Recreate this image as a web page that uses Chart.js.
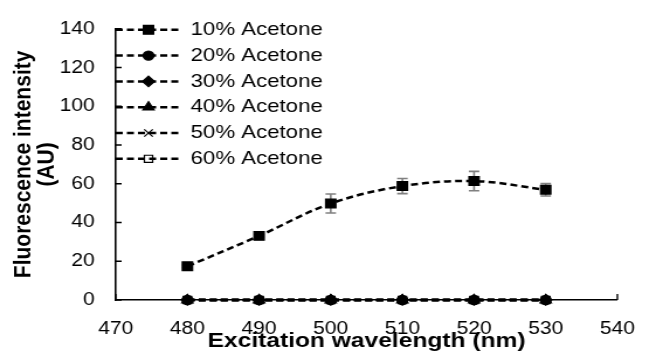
<!DOCTYPE html>
<html>
<head>
<meta charset="utf-8">
<script src="https://cdn.jsdelivr.net/npm/chart.js@4.4.1/dist/chart.umd.min.js"></script>
<style>
  html, body { margin: 0; padding: 0; background: #fff; overflow: hidden; }
  /* the reference is stretched sideways, so the chart is drawn narrow and scaled */
  #wrap { width: 561px; height: 363px; transform: scaleX(1.1693); transform-origin: 0 0; }
</style>
</head>
<body>
<div id="wrap"><canvas id="chart" width="561" height="363"></canvas></div>
<script>
// Data
const wavelengths = [480, 490, 500, 510, 520, 530];
const acetone10 = [17.4, 33.1, 49.8, 58.8, 61.4, 56.9];
const acetone10Err = [0.6, 0.6, 4.9, 3.9, 5.0, 3.2];
const acetone20 = [0, 0, 0, 0, 0, 0];
const acetone30 = [0, 0, 0, 0, 0, 0];
const acetone40 = [0, 0, 0, 0, 0, 0];
const acetone50 = [0, 0, 0, 0, 0, 0];
const acetone60 = [0, 0, 0, 0, 0, 0];
const seriesNames = ["10% Acetone", "20% Acetone", "30% Acetone", "40% Acetone", "50% Acetone", "60% Acetone"];
const xRange = [470, 540], xStep = 10;
const yRange = [0, 140], yStep = 20;

const FONT = "'Liberation Sans', Arial, sans-serif";
const DASH = [6, 3.5];

const pts = vals => vals.map((v, i) => ({ x: wavelengths[i], y: v }));

function makeSet(label, vals, style, radius, fill, errors) {
  return {
    label, data: pts(vals), errors: errors || null,
    borderColor: "#000", borderWidth: 2.5, borderDash: DASH,
    tension: 0.35, clip: false,
    pointStyle: style, pointRadius: radius,
    pointBackgroundColor: fill, pointBorderColor: "#000", pointBorderWidth: 1.2
  };
}

const datasets = [
  makeSet(seriesNames[0], acetone10, "rect", 6.2, "#000", acetone10Err),
  makeSet(seriesNames[1], acetone20, "circle", 4.6, "#000"),
  makeSet(seriesNames[2], acetone30, "rectRot", 5.2, "#000"),
  makeSet(seriesNames[3], acetone40, "triangle", 5.6, "#000"),
  makeSet(seriesNames[4], acetone50, "crossRot", 5.2, "#000"),
  makeSet(seriesNames[5], acetone60, "rect", 5.0, "rgba(255,255,255,0)")
];

// error bars, grey with caps
const errorBars = {
  id: "errorBars",
  beforeDatasetsDraw(chart) {
    const { ctx, scales: { x, y } } = chart;
    ctx.save();
    ctx.strokeStyle = "#808080"; ctx.lineWidth = 1.6;
    chart.data.datasets.forEach(ds => {
      if (!ds.errors) return;
      ds.data.forEach((p, i) => {
        const e = ds.errors[i];
        const px = x.getPixelForValue(p.x);
        const top = y.getPixelForValue(p.y + e), bot = y.getPixelForValue(p.y - e);
        ctx.beginPath();
        ctx.moveTo(px, top); ctx.lineTo(px, bot);
        ctx.moveTo(px - 4.5, top); ctx.lineTo(px + 4.5, top);
        ctx.moveTo(px - 4.5, bot); ctx.lineTo(px + 4.5, bot);
        ctx.stroke();
      });
    });
    ctx.restore();
  }
};

// tick marks pointing into the plot
const innerTicks = {
  id: "innerTicks",
  afterDraw(chart) {
    const { ctx, chartArea: a, scales: { x, y } } = chart;
    ctx.save();
    ctx.strokeStyle = "#000"; ctx.lineWidth = 1.4;
    ctx.beginPath();
    y.ticks.forEach(t => { const py = y.getPixelForValue(t.value); ctx.moveTo(a.left, py); ctx.lineTo(a.left + 5, py); });
    x.ticks.forEach(t => { const px = x.getPixelForValue(t.value); ctx.moveTo(px, a.bottom); ctx.lineTo(px, a.bottom - 6); });
    ctx.stroke();
    ctx.restore();
  }
};

// legend: dashed line with marker, inside the plot at top left
const lineLegend = {
  id: "lineLegend",
  afterDraw(chart) {
    const { ctx, chartArea: a } = chart;
    ctx.save();
    chart.data.datasets.forEach((ds, i) => {
      const yy = a.top + 1 + i * 25.8;
      ctx.strokeStyle = "#000"; ctx.lineWidth = 2.5; ctx.setLineDash(DASH);
      ctx.beginPath(); ctx.moveTo(a.left, yy); ctx.lineTo(a.left + 55, yy); ctx.stroke();
      ctx.setLineDash([]);
      ctx.fillStyle = ds.pointBackgroundColor; ctx.strokeStyle = "#000";
      ctx.lineWidth = ds.pointBorderWidth;
      Chart.helpers.drawPoint(ctx, { pointStyle: ds.pointStyle, radius: ds.pointRadius, rotation: 0, borderWidth: ds.pointBorderWidth }, a.left + 28, yy);
      ctx.fillStyle = "#000"; ctx.font = "19px " + FONT;
      ctx.textAlign = "left"; ctx.textBaseline = "middle";
      ctx.fillText(ds.label, a.left + 64, yy);
    });
    ctx.restore();
  }
};

new Chart(document.getElementById("chart"), {
  type: "line",
  data: { datasets },
  plugins: [errorBars, innerTicks, lineLegend],
  options: {
    responsive: false,
    animation: false,
    devicePixelRatio: 1,
    layout: { padding: { top: 22, right: 17, left: 0, bottom: 0 } },
    plugins: { legend: { display: false }, tooltip: { enabled: false } },
    scales: {
      x: {
        type: "linear", min: xRange[0], max: xRange[1],
        afterFit: s => { s.height = 63; },
        ticks: { stepSize: xStep, padding: 18, color: "#000", font: { family: FONT, size: 18 } },
        grid: { display: false, drawTicks: false },
        border: { display: true, color: "#000", width: 1.6 },
        title: { display: true, text: "Excitation wavelength (nm)", color: "#000",
          font: { family: FONT, size: 21, weight: "bold", lineHeight: 1 }, padding: { top: 0, bottom: 11 } }
      },
      y: {
        min: yRange[0], max: yRange[1],
        afterFit: s => { s.width = 99; },
        ticks: { stepSize: yStep, padding: 18, color: "#000", font: { family: FONT, size: 18 } },
        grid: { display: false, drawTicks: false },
        border: { display: true, color: "#000", width: 1.6 },
        title: { display: true, text: ["Fluorescence intensity", "(AU)"], color: "#000",
          font: { family: FONT, size: 21, weight: "bold", lineHeight: 0.95 }, padding: { top: 10, bottom: 0 } }
      }
    }
  }
});
</script>
</body>
</html>
